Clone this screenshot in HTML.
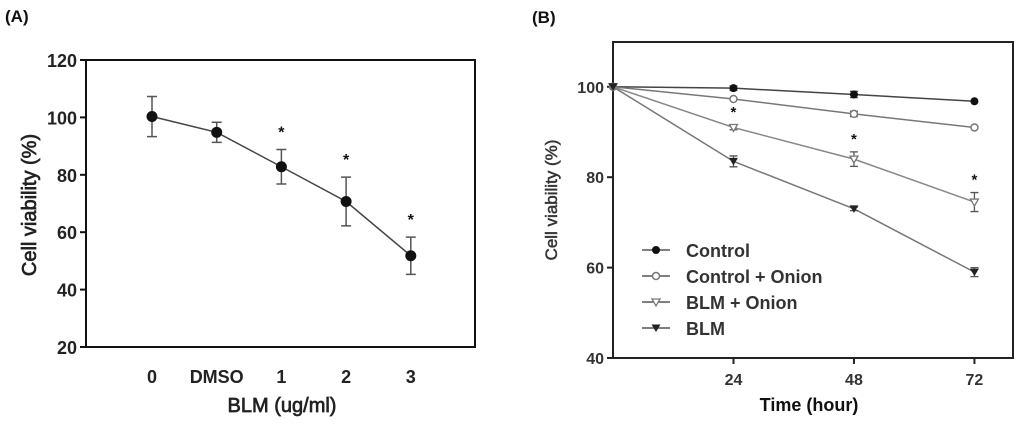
<!DOCTYPE html>
<html><head><meta charset="utf-8"><style>
body{margin:0;background:#fff}
svg{display:block;font-family:"Liberation Sans",Arial,sans-serif;font-weight:bold}
</style></head><body>
<svg id="s" width="1024" height="424">
<text x="5" y="22" font-size="17" fill="#111">(A)</text>
<text x="532" y="23" font-size="17" fill="#111">(B)</text>
<g id="A"></g>
<g id="B"></g>
</svg>
<script>
const NS='http://www.w3.org/2000/svg';
// Chart A data
const catsA=['0','DMSO','1','2','3'];
const valsA=[100.3,94.8,82.8,70.7,51.8];
const errA=[7,3.5,6,8.5,6.5];
const sigA=[false,false,true,true,true];
const ticksA=[20,40,60,80,100,120];
// Chart B data
const hoursB=[0,24,48,72];
const tickXB=[24,48,72];
const ticksB=[40,60,80,100];
const seriesNames=['Control','Control + Onion','BLM + Onion','BLM'];
const ctrl=[100,99.7,98.3,96.8];
const ctrlErr=[0,0.5,0.7,0.3];
const ctrlOn=[100,97.3,94,91];
const ctrlOnErr=[0,0.3,0.6,0.3];
const blmOn=[100,91,84,74.5];
const blmOnErr=[0,0.5,1.6,2.1];
const blm=[100,83.5,73,59];
const blmErr=[0,1.2,0.4,1];
const sigB=[false,true,true,true];

function el(p,t,a,txt){const e=document.createElementNS(NS,t);for(const k in a)e.setAttribute(k,a[k]);if(txt!==undefined)e.textContent=txt;p.appendChild(e);return e;}

// ---- A
const gA=document.getElementById('A');
const ax=i=>152+i*64.7, ay=v=>347-(v-20)*2.87;
const fA=el(gA,'rect',{x:86,y:60,width:389,height:287,fill:'none',stroke:'#111','stroke-width':2});

ticksA.forEach(t=>{
 const l=el(gA,'line',{x1:80,x2:86,y1:ay(t),y2:ay(t),stroke:'#111','stroke-width':2});
 
 const tx=el(gA,'text',{x:77,y:ay(t)+7,'text-anchor':'end','font-size':18,fill:'#222'},t);
 
});
catsA.forEach((c,i)=>{
 const tx=el(gA,'text',{x:ax(i),y:383,'text-anchor':'middle','font-size':18,fill:'#222'},c);
 
});
const xtA=el(gA,'text',{x:282,y:412,'text-anchor':'middle','font-size':20,fill:'#222',style:'font-weight:normal;stroke:#222;stroke-width:0.7'},'BLM (ug/ml)');

const ytA=el(gA,'text',{x:0,y:0,transform:'translate(36,205) rotate(-90)','text-anchor':'middle','font-size':20,fill:'#222',style:'font-weight:normal;stroke:#222;stroke-width:0.7'},'Cell viability (%)');

const lnA=el(gA,'polyline',{points:valsA.map((v,i)=>ax(i)+','+ay(v)).join(' '),fill:'none',stroke:'#444','stroke-width':1.5});

valsA.forEach((v,i)=>{
 const x=ax(i),y1=ay(v+errA[i]),y2=ay(v-errA[i]);
 const eb=el(gA,'path',{d:`M${x},${y1}V${y2}M${x-5},${y1}H${x+5}M${x-5},${y2}H${x+5}`,stroke:'#555','stroke-width':1.5,fill:'none'});
 
 const p=el(gA,'circle',{cx:x,cy:ay(v),r:5.5,fill:'#111'});
 
 if(sigA[i]){const s=el(gA,'text',{x:x,y:y1-12,'text-anchor':'middle','font-size':16,fill:'#111'},'*');
  }
});

// ---- B
const gB=document.getElementById('B');
const bx=h=>613+h*5.02, by=v=>358-(v-40)*4.52;
const fB=el(gB,'rect',{x:613,y:42,width:400,height:316,fill:'none',stroke:'#222','stroke-width':2});

ticksB.forEach(t=>{
 const l=el(gB,'line',{x1:607,x2:613,y1:by(t),y2:by(t),stroke:'#222','stroke-width':2});
 
 const tx=el(gB,'text',{x:604,y:by(t)+6,'text-anchor':'end','font-size':16,fill:'#333'},t);
 
});
tickXB.forEach(t=>{
 const l=el(gB,'line',{x1:bx(t),x2:bx(t),y1:358,y2:364,stroke:'#222','stroke-width':2});
 
 const tx=el(gB,'text',{x:bx(t),y:385,'text-anchor':'middle','font-size':16,fill:'#333'},t);
 
});
const xtB=el(gB,'text',{x:809,y:411,'text-anchor':'middle','font-size':18,fill:'#111'},'Time (hour)');

const ytB=el(gB,'text',{x:0,y:0,transform:'translate(557,200) rotate(-90)','text-anchor':'middle','font-size':17,fill:'#333',style:'font-weight:normal;stroke:#333;stroke-width:0.5'},'Cell viability (%)');


function marker(g,type,x,y){
 let m;
 if(type===0)m=el(g,'circle',{cx:x,cy:y,r:4,fill:'#111'});
 else if(type===1)m=el(g,'circle',{cx:x,cy:y,r:3.5,fill:'#fff',stroke:'#777','stroke-width':1.5});
 else if(type===2)m=el(g,'path',{d:`M${x-4},${y-3}H${x+4}L${x},${y+4}Z`,fill:'#fff',stroke:'#777','stroke-width':1.3});
 else m=el(g,'path',{d:`M${x-4.5},${y-3.5}H${x+4.5}L${x},${y+4}Z`,fill:'#222'});
 return m;
}
const allS=[[ctrl,ctrlErr,'#444'],[ctrlOn,ctrlOnErr,'#777'],[blmOn,blmOnErr,'#888'],[blm,blmErr,'#777']];
allS.forEach(([vals,errs,col],si)=>{
 const ln=el(gB,'polyline',{points:vals.map((v,i)=>bx(hoursB[i])+','+by(v)).join(' '),fill:'none',stroke:col,'stroke-width':1.5});
 
 
 vals.forEach((v,i)=>{
  const x=bx(hoursB[i]);
  if(errs[i]>0.3){const y1=by(v+errs[i]),y2=by(v-errs[i]);
   const eb=el(gB,'path',{d:`M${x},${y1}V${y2}M${x-4},${y1}H${x+4}M${x-4},${y2}H${x+4}`,stroke:'#555','stroke-width':1.3,fill:'none'});
   }
  const m=marker(gB,si,x,by(v));
  
 });
});
hoursB.forEach((h,i)=>{ if(sigB[i]){
 const s=el(gB,'text',{x:bx(h),y:by(blmOn[i]+blmOnErr[i])-8,'text-anchor':'middle','font-size':15,fill:'#111'},'*');
 }});
seriesNames.forEach((n,i)=>{
 const y=250+i*26;
 const l=el(gB,'line',{x1:642,x2:670,y1:y,y2:y,stroke:'#555','stroke-width':1.5});
 
 const m=marker(gB,i,656,y);
 
 const t=el(gB,'text',{x:686,y:y+7,'font-size':18,fill:'#333'},n);
 
});
</script>
</body></html>
